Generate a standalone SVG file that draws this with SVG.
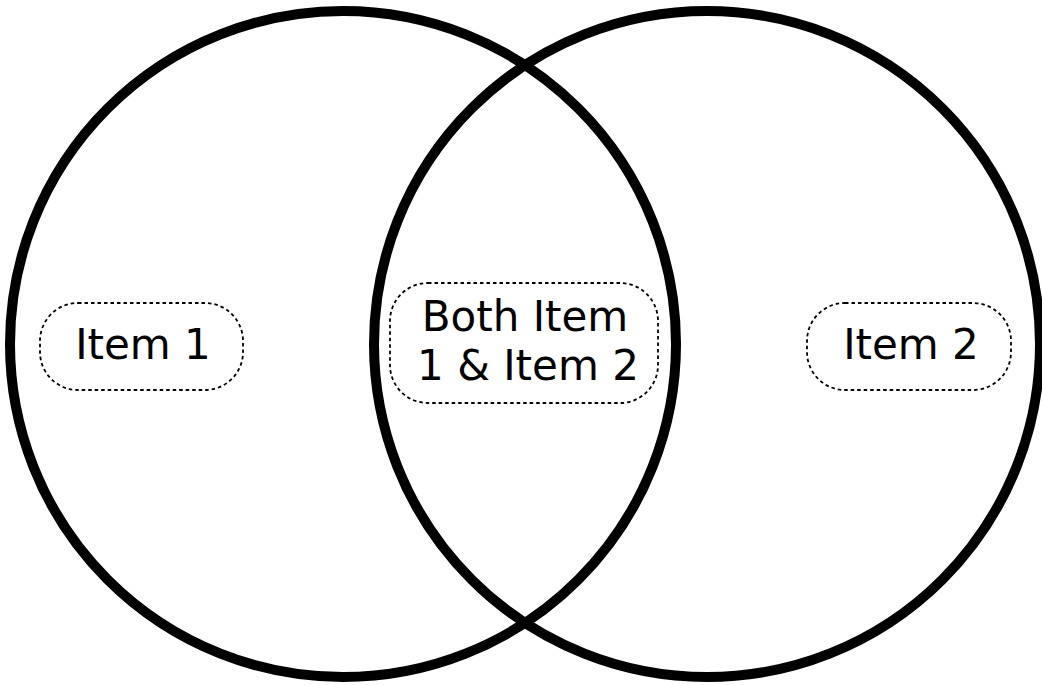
<svg xmlns="http://www.w3.org/2000/svg" width="1042" height="685" viewBox="0 0 1042 685">
<style>
.set{fill:none;stroke:#000;stroke-width:10}
.box{fill:none;stroke:#000;stroke-width:1.8;stroke-dasharray:3.5 3}
.lbl{font-family:"DejaVu Sans",Verdana,sans-serif;font-size:42px;fill:#000;text-anchor:middle}
</style>
<rect width="1042" height="685" fill="#fff"/>
<g id="set1"><circle class="set" cx="343" cy="344" r="333"/></g>
<g id="set2"><circle class="set" cx="707" cy="344" r="333"/></g>
<g id="connectors"></g>
<g id="item1">
<rect class="box" x="40" y="303" width="203" height="87" rx="38"/>
<text class="lbl" x="143" y="359">Item 1</text>
</g>
<g id="both">
<rect class="box" x="390" y="283" width="268" height="120" rx="38"/>
<text class="lbl" x="525" y="331">Both Item</text>
<text class="lbl" x="528" y="380">1 &amp; Item 2</text>
</g>
<g id="item2">
<rect class="box" x="807" y="303" width="204" height="87" rx="38"/>
<text class="lbl" x="911" y="359">Item 2</text>
</g>
</svg>
